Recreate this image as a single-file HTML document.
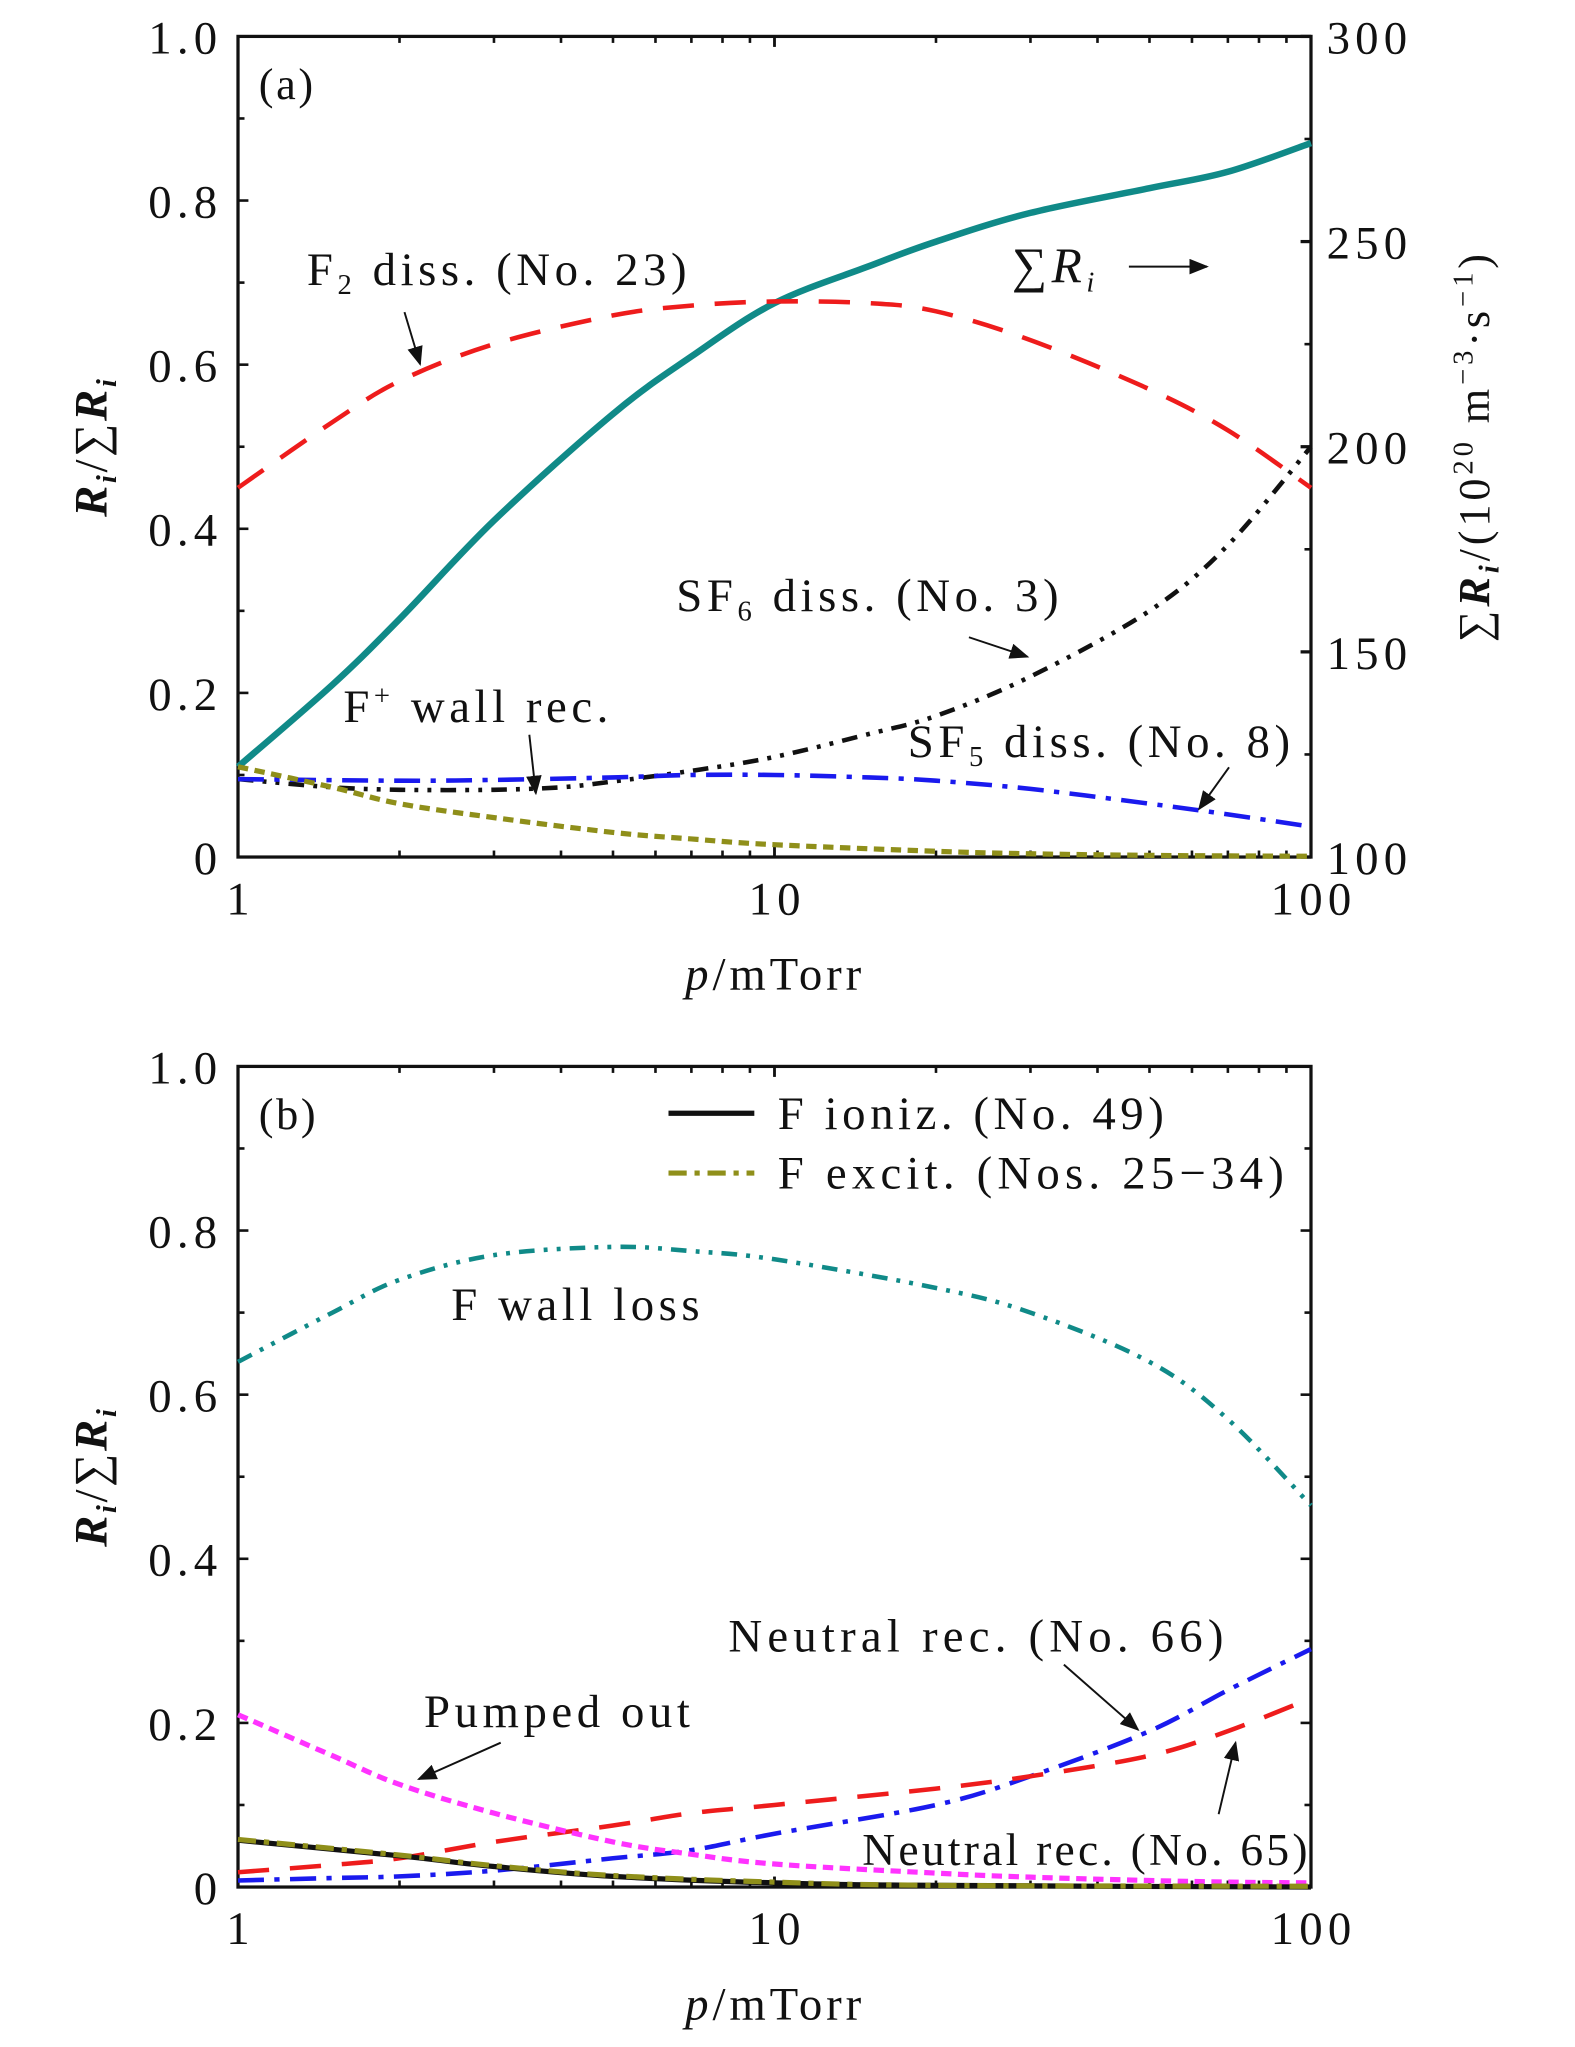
<!DOCTYPE html>
<html><head><meta charset="utf-8"><style>
html,body{margin:0;padding:0;background:#fff}
svg{display:block}
text{font-family:"Liberation Serif",serif;fill:#111}
</style></head><body>
<svg id="chart" width="1575" height="2047" viewBox="0 0 1211 1574" preserveAspectRatio="none" xmlns="http://www.w3.org/2000/svg">
<defs><marker id="ah" markerWidth="10" markerHeight="8" refX="9" refY="4" orient="auto"><path d="M0,0 L10,4 L0,8 z" fill="#111"/></marker></defs>
<g id="pa"></g>
<g id="pb"></g>
</svg>
<script>
const xTicks=[1,10,100];
const xTickLabels=["1","10","100"];
const yTicks=[0,0.2,0.4,0.6,0.8,1.0];
const yTickLabels=["0","0.2","0.4","0.6","0.8","1.0"];
const y2Ticks=[100,150,200,250,300];
// panel a
const aX=[1,1.5,2,3,5,7,10,15,20,30,50,70,100];
const aSumR=[122,142,158,182,208,222,235,244,250,257,263,267,274];
const aF2=[0.45,0.53,0.58,0.625,0.66,0.672,0.677,0.675,0.665,0.63,0.57,0.52,0.45];
const aSF6X=[1,1.5,2,3,4,5,7,10,15,20,30,50,70,100];
const aSF6=[0.095,0.085,0.082,0.082,0.085,0.092,0.105,0.122,0.15,0.172,0.22,0.3,0.38,0.5];
const aSF5X=[1,2,3,5,7,10,15,20,30,50,70,100];
const aSF5=[0.095,0.093,0.094,0.097,0.1,0.1,0.097,0.093,0.083,0.065,0.052,0.037];
const aFpX=[1,1.5,2,3,5,7,10,20,30,50,100];
const aFp=[0.11,0.085,0.065,0.048,0.03,0.022,0.015,0.007,0.004,0.002,0.001];
// panel b
const bX=[1,1.5,2,3,5,7,10,20,30,50,70,100];
const bWall=[0.64,0.7,0.74,0.77,0.78,0.775,0.765,0.73,0.70,0.64,0.57,0.465];
const bN66=[0.008,0.011,0.013,0.02,0.035,0.045,0.065,0.1,0.135,0.19,0.24,0.29];
const bN65=[0.018,0.027,0.035,0.055,0.075,0.09,0.1,0.12,0.135,0.16,0.19,0.23];
const bPump=[0.21,0.16,0.125,0.09,0.055,0.04,0.028,0.017,0.012,0.008,0.006,0.005];
const bIonX=[1,2,3,5,10,20,100];
const bIon=[0.057,0.038,0.025,0.013,0.005,0.002,0.0];
const bExc=[0.058,0.039,0.026,0.014,0.006,0.002,0.001];

const NS="http://www.w3.org/2000/svg";
const X0=183,X1=1008;
function sx(v){return X0+(Math.log10(v)/2)*(X1-X0);}
function mk(tag,at,parent){const e=document.createElementNS(NS,tag);for(const k in at)e.setAttribute(k,at[k]);parent.appendChild(e);return e;}
function txt(parent,x,y,html,size,anchor,name,ls){const t=mk('text',{x:x,y:y,'font-size':size,'text-anchor':anchor||'start','letter-spacing':ls==null?3.5:ls},parent);t.innerHTML=html;


return t;}

function axes(g,Y0,Y1,right,label){
  const sy=v=>Y0-(Y0-Y1)*v;
  const fr=mk('rect',{x:X0,y:Y1,width:X1-X0,height:Y0-Y1,fill:'none',stroke:'#111','stroke-width':2.5},g);
  
  
  for(let v=0;v<=1.0001;v+=0.1){const y=sy(v),len=(Math.round(v*10)%2==0)?8:5;
    mk('line',{x1:X0,y1:y,x2:X0+len,y2:y,stroke:'#111','stroke-width':2},g);
    if(!right) mk('line',{x1:X1,y1:y,x2:X1-len,y2:y,stroke:'#111','stroke-width':2},g);}
  for(let d=0;d<2;d++)for(let k=1;k<=10;k++){const v=k*Math.pow(10,d);if(v>100)continue;const x=sx(v);const len=(k==1||k==10)?8:5;
    mk('line',{x1:x,y1:Y0,x2:x,y2:Y0-len,stroke:'#111','stroke-width':2},g);
    mk('line',{x1:x,y1:Y1,x2:x,y2:Y1+len,stroke:'#111','stroke-width':2},g);}
  yTicks.forEach((v,i)=>txt(g,X0-12,sy(v)+13,yTickLabels[i],36,'end','y-tick-label',4));
  xTicks.forEach((v,i)=>txt(g,sx(v)+2,Y0+44,xTickLabels[i],36,'middle','x-tick-label',4));
  txt(g,596,Y0+102,'<tspan font-style="italic">p</tspan>/mTorr',36,'middle','x-axis-title',3);
  const yt=txt(g,0,0,'<tspan font-style="italic" font-weight="bold">R<tspan font-size="22" dy="7">i</tspan></tspan><tspan dy="-7">/∑</tspan><tspan font-style="italic" font-weight="bold">R<tspan font-size="22" dy="7">i</tspan></tspan>',36,'middle','y-axis-title',2);
  yt.setAttribute('transform','translate(82,'+((Y0+Y1)/2)+') rotate(-90)');
  txt(g,199,Y1+48,label,34,'start','panel-label',2);
  return sy;
}
function line(g,xs,ys,sy,color,dash,w,name){
  const P=xs.map((x,i)=>[sx(x),sy(ys[i])]);
  let d='M'+P[0][0].toFixed(1)+','+P[0][1].toFixed(1);
  for(let i=0;i<P.length-1;i++){const p0=P[Math.max(0,i-1)],p1=P[i],p2=P[i+1],p3=P[Math.min(P.length-1,i+2)];
    const c1=[p1[0]+(p2[0]-p0[0])/6,p1[1]+(p2[1]-p0[1])/6],c2=[p2[0]-(p3[0]-p1[0])/6,p2[1]-(p3[1]-p1[1])/6];
    d+=' C'+c1.map(v=>v.toFixed(1)).join(',')+' '+c2.map(v=>v.toFixed(1)).join(',')+' '+p2[0].toFixed(1)+','+p2[1].toFixed(1);}
  const p=mk('path',{d:d,fill:'none',stroke:color,'stroke-width':w||3.5,'stroke-dasharray':dash||'none'},g);
  
  
  return p;
}
function arrow(g,x1,y1,x2,y2){const a=mk('line',{x1:x1,y1:y1,x2:x2,y2:y2,stroke:'#111','stroke-width':1.5,'marker-end':'url(#ah)'},g);

}

// Panel a
const ga=document.getElementById('pa');
const sya=axes(ga,659,28,true,'(a)');
const sy2=v=>659-(659-28)*(v-100)/200;
y2Ticks.forEach(v=>{const y=sy2(v);mk('line',{x1:X1,y1:y,x2:X1-8,y2:y,stroke:'#111','stroke-width':2.5},ga);txt(ga,1020,y+13,String(v),36,'start','y2-tick-label',4);});
for(let v=125;v<300;v+=50){const y=sy2(v);mk('line',{x1:X1,y1:y,x2:X1-5,y2:y,stroke:'#111','stroke-width':2},ga);}
const y2t=txt(ga,0,0,'∑<tspan font-style="italic" font-weight="bold">R<tspan font-size="22" dy="7">i</tspan></tspan><tspan dy="-7">/(10<tspan font-size="22" dy="-13">20</tspan><tspan dy="13"> m</tspan><tspan font-size="22" dy="-13">−3</tspan><tspan dy="13">·s</tspan><tspan font-size="22" dy="-13">−1</tspan><tspan dy="13">)</tspan></tspan>',34,'middle','y2-axis-title',3);
y2t.setAttribute('transform','translate(1145,343) rotate(-90)');
line(ga,aX,aSumR,sy2,'#108a88','none',5,'sum-r-line');
line(ga,aX,aF2,sya,'#ee1c1c','24 16',3.5,'f2-diss-line');
line(ga,aSF6X,aSF6,sya,'#111','12 7 3 7 3 7',3.5,'sf6-diss-line');
line(ga,aSF5X,aSF5,sya,'#1a1aee','20 8 4 8',3.5,'sf5-diss-line');
line(ga,aFpX,aFp,sya,'#8f8f1a','8 5',4,'f-plus-wall-rec-line');
txt(ga,236,219,'F<tspan font-size="22" dy="7">2</tspan><tspan dy="-7"> diss. (No. 23)</tspan>',36,'start','f2-label');
arrow(ga,311,240,323,280);
txt(ga,778,217,'∑<tspan font-style="italic">R<tspan font-size="22" dy="7">i</tspan></tspan>',38,'start','sum-r-label');
arrow(ga,868,205,928,205);
txt(ga,520,470,'SF<tspan font-size="22" dy="7">6</tspan><tspan dy="-7"> diss. (No. 3)</tspan>',36,'start','sf6-label');
arrow(ga,745,490,790,505);
txt(ga,264,555,'F<tspan font-size="22" dy="-13">+</tspan><tspan dy="13"> wall rec.</tspan>',36,'start','f-plus-label');
arrow(ga,407,565,412,610);
txt(ga,698,582,'SF<tspan font-size="22" dy="7">5</tspan><tspan dy="-7"> diss. (No. 8)</tspan>',36,'start','sf5-label');
arrow(ga,945,590,922,622);

// Panel b
const gb=document.getElementById('pb');
const syb=axes(gb,1451,820,false,'(b)');
line(gb,bX,bWall,syb,'#108a88','12 7 3 7 3 7',3.5,'f-wall-loss-line');
line(gb,bX,bN66,syb,'#1a1aee','20 8 4 8',3.5,'neutral-rec-66-line');
line(gb,bX,bN65,syb,'#ee1c1c','24 16',3.5,'neutral-rec-65-line');
line(gb,bX,bPump,syb,'#ff33ff','8 5',4,'pumped-out-line');
line(gb,bIonX,bIon,syb,'#111','none',4,'f-ioniz-line');
line(gb,bIonX,bExc,syb,'#8f8f1a','14 6 4 6',4,'f-excit-line');
const l1=mk('line',{x1:514,y1:856,x2:580,y2:856,stroke:'#111','stroke-width':4},gb);


const l2=mk('line',{x1:514,y1:902,x2:580,y2:902,stroke:'#8f8f1a','stroke-width':4,'stroke-dasharray':'14 6 4 6'},gb);


txt(gb,598,868,'F ioniz. (No. 49)',36,'start','legend-entry-ioniz');
txt(gb,598,914,'F excit. (Nos. 25−34)',36,'start','legend-entry-excit',4);
txt(gb,347,1015,'F wall loss',36,'start','f-wall-loss-label');
txt(gb,560,1270,'Neutral rec. (No. 66)',36,'start','neutral-66-label',4);
arrow(gb,818,1280,875,1330);
txt(gb,326,1328,'Pumped out',36,'start','pumped-out-label');
arrow(gb,385,1340,322,1368);
txt(gb,663,1434,'Neutral rec. (No. 65)',35,'start','neutral-65-label',2.5);
arrow(gb,937,1395,950,1340);
</script>
</body></html>
